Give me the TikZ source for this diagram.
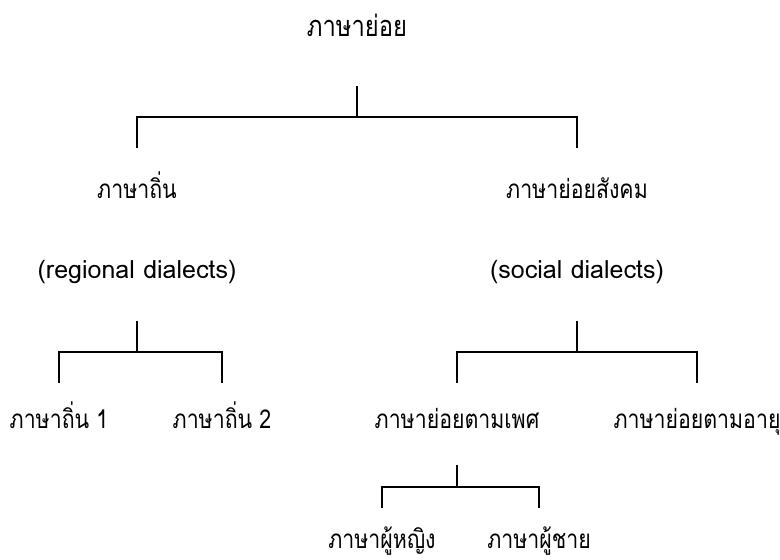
\documentclass[tikz,border=0pt]{standalone}
\usepackage{fontspec}
\setmainfont{Loma}[Script=Thai, FakeStretch=0.82]
\newfontfamily\latinfont{Loma}

\begin{document}
\begin{tikzpicture}[
    x=1pt, y=1pt,
    term/.style={anchor=base, inner sep=0pt, font=\fontsize{26}{30}\selectfont},
    gloss/.style={anchor=base, inner sep=0pt, font=\latinfont\fontsize{25}{30}\selectfont},
    tree/.style={line width=1.8pt}
]
\useasboundingbox (0,0) rectangle (780,560);

\node[term, font=\fontsize{29}{34}\selectfont] (root) at (357,523) {ภาษาย่อย};
\node[term] (regional) at (137,361) {ภาษาถิ่น};
\node[term] (social) at (577,361) {ภาษาย่อยสังคม};
\node[gloss] (regdesc) at (137,281) {(regional dialects)};
\node[gloss] (socdesc) at (577,281) {(social dialects)};
\node[term] (reg1) at (59,131) {ภาษาถิ่น 1};
\node[term] (reg2) at (222,131) {ภาษาถิ่น 2};
\node[term] (gender) at (457,131) {ภาษาย่อยตามเพศ};
\node[term] (age) at (697,131) {ภาษาย่อยตามอายุ};
\node[term] (female) at (382,11) {ภาษาผู้หญิง};
\node[term] (male) at (539,11) {ภาษาผู้ชาย};

% root -> regional / social
\draw[tree] ([yshift=-49]root.base) -- ++(0,-31);
\draw[tree] ([yshift=51]regional.base) -- ++(0,31) -| ([yshift=51]social.base);

% regional -> 1 / 2
\draw[tree] ([yshift=-42]regdesc.base) -- ++(0,-31);
\draw[tree] ([yshift=46]reg1.base) -- ++(0,31) -| ([yshift=46]reg2.base);

% social -> gender / age
\draw[tree] ([yshift=-42]socdesc.base) -- ++(0,-31);
\draw[tree] ([yshift=46]gender.base) -- ++(0,31) -| ([yshift=46]age.base);

% gender -> female / male
\draw[tree] ([yshift=-36]gender.base) -- ++(0,-22);
\draw[tree] ([yshift=41]female.base) -- ++(0,21) -| ([yshift=41]male.base);
\end{tikzpicture}
\end{document}
